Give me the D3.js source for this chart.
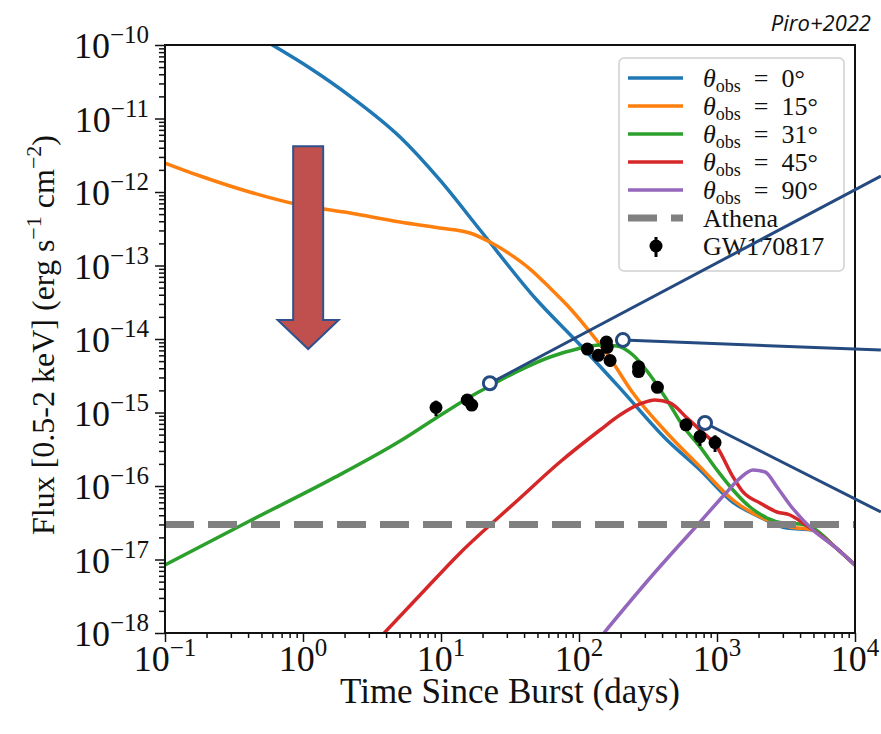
<!DOCTYPE html>
<html>
<head>
<meta charset="utf-8">
<script src="https://cdn.jsdelivr.net/npm/d3@7"></script>
<style>
body { margin: 0; background: #fff; }
svg text { font-family: "Liberation Serif", "DejaVu Serif", serif; fill: #111; }
</style>
</head>
<body>
<div id="chart"></div>
<script>
// curves, [days, flux]
var theta0 = [[0.35,1.87e-10],[0.45,1.37e-10],[0.60,1.0e-10],[1.12,4.87e-11],[2.19,2.02e-11],[5.05,5.6e-12],[9.8,1.46e-12],[19.2,3.04e-13],[48,3.61e-14],[102,8.28e-15],[198,2.15e-15],[434,4.23e-16],[754,1.65e-16],[1306,6.0e-17],[2051,3.78e-17],[3215,2.68e-17],[4963,2.52e-17],[7164,1.48e-17],[10000,8.41e-18]];
var theta15 = [[0.1,2.48e-12],[0.18,1.65e-12],[0.41,1.0e-12],[0.95,6.65e-13],[2.19,5.18e-13],[5.05,3.91e-13],[9.8,3.24e-13],[16.2,2.77e-13],[22.6,2.09e-13],[31.6,1.43e-13],[44.2,8.95e-14],[61.7,4.94e-14],[81.8,2.9e-14],[114,1.41e-14],[160,6.25e-15],[246,1.84e-15],[434,5.26e-16],[754,1.82e-16],[1306,6.45e-17],[2303,3.45e-17],[3380,2.77e-17],[4963,2.52e-17],[7164,1.48e-17],[10000,8.41e-18]];
var theta31 = [[0.1,8.41e-18],[0.41,3.34e-17],[1.57,1.21e-16],[5.05,4.09e-16],[8.75,7.91e-16],[16.2,1.63e-15],[22.6,2.30e-15],[37.4,3.78e-15],[61.7,5.69e-15],[96.8,7.31e-15],[142,8.28e-15],[188,8.03e-15],[246,6.06e-15],[327,3.24e-15],[434,1.48e-15],[567,6.55e-16],[754,3.4e-16],[1000,1.65e-16],[1306,8.83e-17],[1734,5.18e-17],[2303,3.67e-17],[3008,3.14e-17],[3993,3.04e-17],[4963,2.68e-17],[7164,1.48e-17],[10000,8.41e-18]];
var theta45 = [[3.06,6.25e-19],[7.05,3.29e-18],[13.7,1.22e-17],[36.1,6.45e-17],[72.8,2.12e-16],[142,5.78e-16],[198,9.25e-16],[277,1.31e-15],[355,1.48e-15],[456,1.35e-15],[607,8.41e-16],[754,5.78e-16],[1000,3.4e-16],[1306,1.33e-16],[1543,8.29e-17],[2051,5.87e-17],[2721,4.43e-17],[3380,4.03e-17],[4198,3.14e-17],[4963,2.52e-17],[7164,1.48e-17],[10000,8.41e-18]];
var theta90 = [[120,5.87e-19],[327,5.6e-18],[754,3.24e-17],[1143,7.78e-17],[1469,1.28e-16],[1823,1.65e-16],[2229,1.55e-16],[2721,9.68e-17],[3380,5.51e-17],[4963,2.52e-17],[7164,1.48e-17],[10000,8.41e-18]];
var athenaLimit = 3e-17;

// GW170817 observations
var obsDays = [9.2,15.5,16.7,115,138,158,160,168,270,270,370,596,753,968];
var obsFlux = [1.17e-15,1.48e-15,1.26e-15,7.3e-15,6.0e-15,9.1e-15,7.7e-15,5.1e-15,4.2e-15,3.6e-15,2.2e-15,6.8e-16,4.7e-16,3.9e-16];
var obsErr  = [0.28e-15,0.2e-15,0.2e-15,0.8e-15,0.8e-15,1.2e-15,1.0e-15,0.9e-15,0.5e-15,0.5e-15,0.3e-15,1.2e-16,1.2e-16,1.0e-16];

var angles = ["0°","15°","31°","45°","90°"];
var colors = ["#1f77b4","#ff7f0e","#2ca02c","#d62728","#9467bd"];
var xTicks = [-1,0,1,2,3,4];
var yTicks = [-18,-17,-16,-15,-14,-13,-12,-11,-10];

// slide annotations: circle on a point, line out to the right edge
var callouts = [[22.6,2.5e-15,15400,1.65e-12],[208,9.68e-15,15400,7.08e-15],[819,7.2e-16,15400,4.43e-17]];
var arrowDay = 1.09, arrowTop = 4.2e-12, arrowTip = 7.3e-15;

var margin = {top:45, right:26, bottom:101, left:165};
var containerWidth = 881, containerHeight = 734;
var chartWidth = containerWidth - margin.left - margin.right;
var chartHeight = containerHeight - margin.top - margin.bottom;

var root = d3.select('#chart').append('svg')
    .attr('width', containerWidth)
    .attr('height', containerHeight);

var svg = root.append('g')
    .attr('transform', `translate(${margin.left}, ${margin.top})`);

var xScale = d3.scaleLog().domain([1e-1,1e4]).range([0,chartWidth]);
var yScale = d3.scaleLog().domain([1e-18,1e-10]).range([chartHeight,0]);

svg.append('clipPath').attr('id','plotclip')
  .append('rect').attr('width',chartWidth).attr('height',chartHeight);

// minor + major ticks
var minorX = [], minorY = [];
d3.range(-1,4).forEach(e => d3.range(2,10).forEach(m => minorX.push(m*Math.pow(10,e))));
d3.range(-18,-10).forEach(e => d3.range(2,10).forEach(m => minorY.push(m*Math.pow(10,e))));

function styleAxis(g){
  g.select('.domain').remove();
  g.selectAll('line').attr('stroke','#111').attr('stroke-width',1.5);
}

svg.append('g').attr('transform',`translate(0,${chartHeight})`)
  .call(d3.axisBottom(xScale).tickValues(minorX).tickSize(5).tickFormat('')).call(styleAxis);
svg.append('g').attr('transform',`translate(0,${chartHeight})`)
  .call(d3.axisBottom(xScale).tickValues(xTicks.map(e => Math.pow(10,e))).tickSize(9).tickFormat('')).call(styleAxis);
svg.append('g')
  .call(d3.axisLeft(yScale).tickValues(minorY).tickSize(6).tickFormat('')).call(styleAxis);
svg.append('g')
  .call(d3.axisLeft(yScale).tickValues(yTicks.map(e => Math.pow(10,e))).tickSize(10).tickFormat('')).call(styleAxis);

// tick labels 10^n
function powLabel(sel, e){
  sel.append('tspan').text('10');
  sel.append('tspan').attr('dy',-15).style('font-size','25px').text(e < 0 ? '\u2212' + (-e) : e);
}
xTicks.forEach(function(e){
  svg.append('text')
    .attr('x', xScale(Math.pow(10,e)))
    .attr('y', chartHeight + 38)
    .attr('text-anchor','middle')
    .style('font-size','36px')
    .call(powLabel, e);
});
yTicks.forEach(function(e){
  svg.append('text')
    .attr('x', -16)
    .attr('y', yScale(Math.pow(10,e)) + 13)
    .attr('text-anchor','end')
    .style('font-size','36px')
    .call(powLabel, e);
});

// axis titles
svg.append('text')
  .attr('x', chartWidth/2).attr('y', chartHeight + 70)
  .attr('text-anchor','middle')
  .style('font-size','35px')
  .text('Time Since Burst (days)');

var ylab = svg.append('text')
  .attr('transform', `translate(${-111}, ${chartHeight/2 - 4}) rotate(-90)`)
  .attr('text-anchor','middle')
  .style('font-size','32px');
ylab.append('tspan').text('Flux [0.5-2 keV] (erg s');
ylab.append('tspan').attr('dy',-13).style('font-size','22px').text('\u22121');
ylab.append('tspan').attr('dy',13).text(' cm');
ylab.append('tspan').attr('dy',-13).style('font-size','22px').text('\u22122');
ylab.append('tspan').attr('dy',13).text(')');

// curves
var line = d3.line()
  .x(d => xScale(d[0]))
  .y(d => yScale(d[1]))
  .curve(d3.curveMonotoneX);

var plot = svg.append('g').attr('clip-path','url(#plotclip)');
var series = [theta0, theta15, theta31, theta45, theta90];

plot.selectAll('path.model')
  .data(series)
  .join('path')
    .attr('class','model')
    .attr('d', line)
    .attr('fill','none')
    .attr('stroke', (d,i) => colors[i])
    .attr('stroke-width',3.5)
    .attr('stroke-linejoin','round');

plot.append('line')
  .attr('x1',0).attr('x2',chartWidth)
  .attr('y1',yScale(athenaLimit)).attr('y2',yScale(athenaLimit))
  .attr('stroke','#808080')
  .attr('stroke-width',7)
  .attr('stroke-dasharray','29,14');

var obs = obsDays.map((d,i) => ({t:d, f:obsFlux[i], e:obsErr[i]}));
plot.selectAll('line.err')
  .data(obs)
  .join('line')
    .attr('class','err')
    .attr('x1', d => xScale(d.t)).attr('x2', d => xScale(d.t))
    .attr('y1', d => yScale(d.f + d.e)).attr('y2', d => yScale(d.f - d.e))
    .attr('stroke','#000').attr('stroke-width',3);
plot.selectAll('circle.obs')
  .data(obs)
  .join('circle')
    .attr('class','obs')
    .attr('cx', d => xScale(d.t))
    .attr('cy', d => yScale(d.f))
    .attr('r',6.5)
    .attr('fill','#000');

// frame
svg.append('rect')
  .attr('width',chartWidth).attr('height',chartHeight)
  .attr('fill','none').attr('stroke','#111').attr('stroke-width',2);

// legend
var legend = svg.append('g').attr('transform','translate(454,13)');
legend.append('rect')
  .attr('width',225).attr('height',213)
  .attr('rx',5)
  .attr('fill','#fff').attr('fill-opacity',0.8)
  .attr('stroke','#d0d0d0').attr('stroke-width',1.5);

angles.forEach(function(a,i){
  var ry = 20 + i*28;
  legend.append('line')
    .attr('x1',9).attr('x2',64).attr('y1',ry).attr('y2',ry)
    .attr('stroke',colors[i]).attr('stroke-width',3.5);
  var t = legend.append('text').attr('x',84).attr('y',ry+9).style('font-size','26px');
  t.append('tspan').style('font-style','italic').text('\u03b8');
  t.append('tspan').attr('dy',5).style('font-size','18px').text('obs');
  t.append('tspan').attr('dy',-5).text('\u2002=\u2002' + a);
});
var ay = 20 + 5*28;
legend.append('line')
  .attr('x1',9).attr('x2',64).attr('y1',ay).attr('y2',ay)
  .attr('stroke','#808080').attr('stroke-width',7).attr('stroke-dasharray','29,14');
legend.append('text').attr('x',84).attr('y',ay+9).style('font-size','26px').text('Athena');
var gy = 20 + 6*28;
legend.append('line')
  .attr('x1',37).attr('x2',37).attr('y1',gy-9).attr('y2',gy+11)
  .attr('stroke','#000').attr('stroke-width',3);
legend.append('circle').attr('cx',37).attr('cy',gy).attr('r',6.5).attr('fill','#000');
legend.append('text').attr('x',84).attr('y',gy+9).style('font-size','26px').text('GW170817');

// down arrow
var ax = xScale(arrowDay), aTop = yScale(arrowTop), aTip = yScale(arrowTip);
var headLen = 29;
svg.append('path')
  .attr('d', d3.line()([
    [ax-15,aTop],[ax+15,aTop],[ax+15,aTip-headLen],[ax+30.5,aTip-headLen],
    [ax,aTip],[ax-30.5,aTip-headLen],[ax-15,aTip-headLen]
  ]) + 'Z')
  .attr('fill','#c0504d')
  .attr('stroke','#2f528f')
  .attr('stroke-width',2);

// callout lines
var callG = svg.append('g');
callG.selectAll('line')
  .data(callouts)
  .join('line')
    .attr('x1', d => xScale(d[0])).attr('y1', d => yScale(d[1]))
    .attr('x2', d => xScale(d[2])).attr('y2', d => yScale(d[3]))
    .attr('stroke','#244a80').attr('stroke-width',3);
callG.selectAll('circle')
  .data(callouts)
  .join('circle')
    .attr('cx', d => xScale(d[0])).attr('cy', d => yScale(d[1]))
    .attr('r',6.5)
    .attr('fill','#fff')
    .attr('stroke','#244a80').attr('stroke-width',3);

root.append('text')
  .attr('x',871).attr('y',31)
  .attr('text-anchor','end')
  .style('font-family','"Open Sans", sans-serif')
  .style('font-style','italic')
  .style('font-size','22px')
  .text('Piro+2022');
</script>
</body>
</html>
